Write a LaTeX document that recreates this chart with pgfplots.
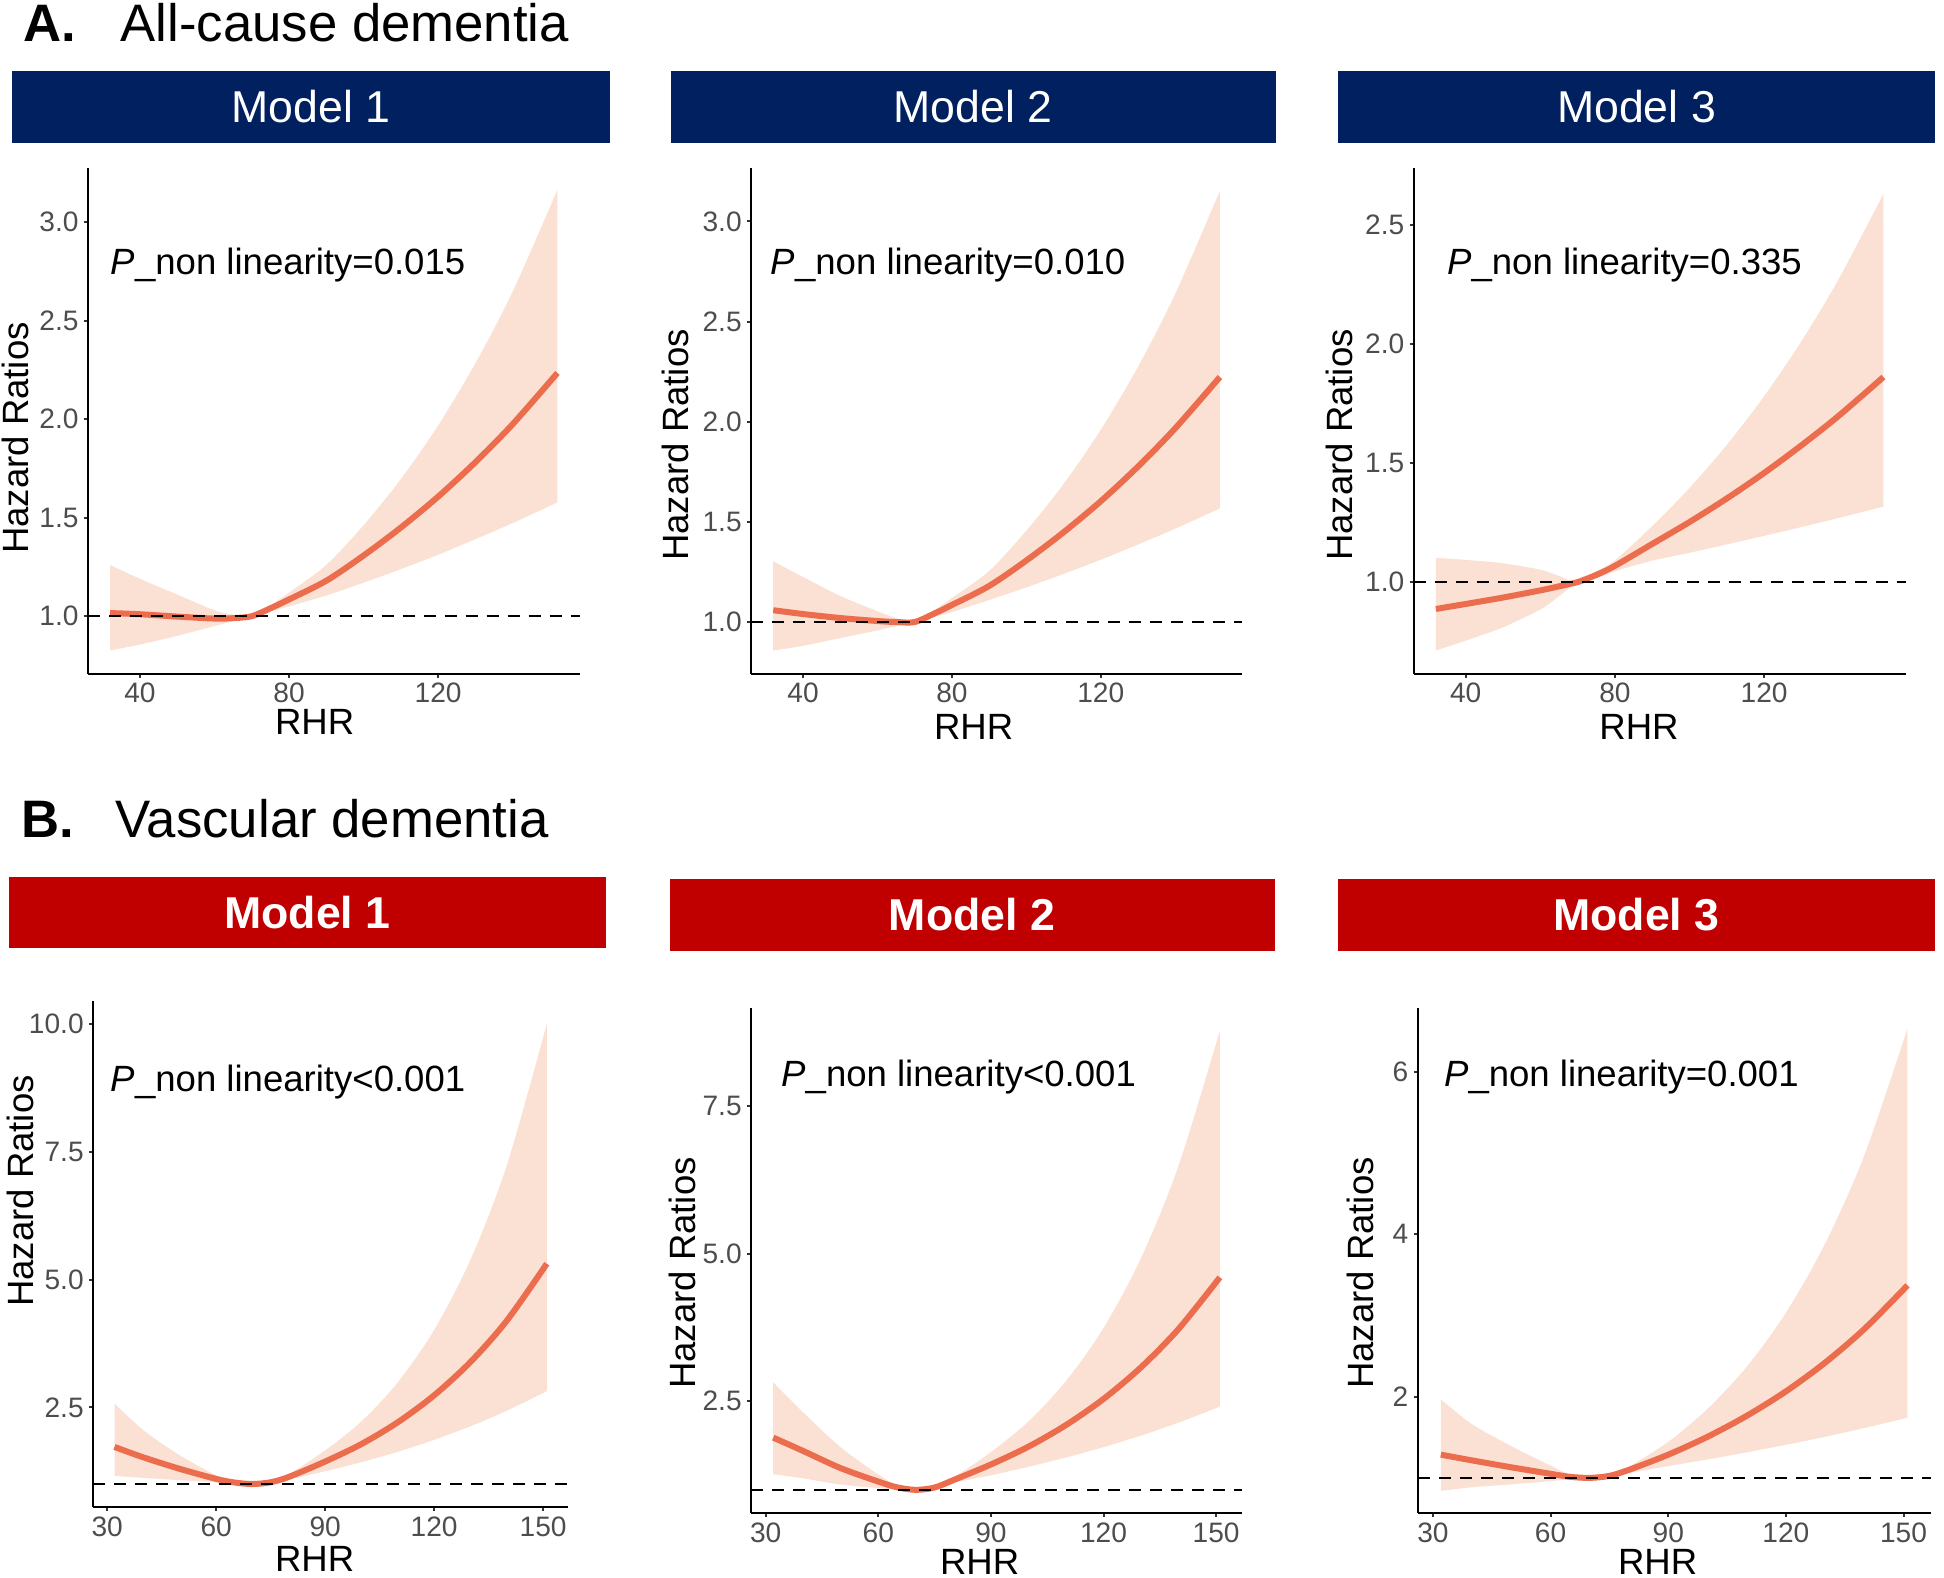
\documentclass[border=0pt]{standalone}
\usepackage{fontspec}
\setmainfont{Liberation Sans}
\usepackage{pgfplots}
\pgfplotsset{compat=1.18}
\usepackage{pgfplotstable}
\usepgfplotslibrary{fillbetween}

\definecolor{navyc}{HTML}{002060}
\definecolor{redc}{HTML}{C00000}
\definecolor{fitc}{HTML}{EC6C4E}
\definecolor{bandc}{HTML}{FBE1D3}
\definecolor{labgray}{HTML}{4D4D4D}
\definecolor{tickgray}{HTML}{333333}

\newcommand\ticksz{\fontsize{8}{9.5}\selectfont}
\newcommand\labsz{\fontsize{10.4}{12}\selectfont}
\newcommand\annsz{\fontsize{10.4}{12}\selectfont}
\newcommand\stripsz{\fontsize{12.7}{15}\selectfont}
\newcommand\titlesz{\fontsize{15}{18}\selectfont}

% x = RHR, lo / fit / hi = hazard ratio and 95% CI
\pgfplotstableread{
x lo fit hi
32 0.826 1.016 1.260
40 0.856 1.010 1.190
50 0.900 0.998 1.110
60 0.950 0.988 1.030
65 0.975 0.990 1.008
70 1.000 1.000 1.000
75 1.025 1.040 1.055
80 1.050 1.085 1.120
90 1.105 1.180 1.260
100 1.170 1.308 1.462
110 1.239 1.450 1.696
120 1.312 1.607 1.968
130 1.391 1.782 2.284
140 1.473 1.975 2.648
152 1.578 2.235 3.165
}\Aone

\pgfplotstableread{
x lo fit hi
32 0.858 1.059 1.303
40 0.881 1.040 1.225
50 0.920 1.020 1.130
60 0.958 1.005 1.054
65 0.980 1.000 1.020
70 1.000 1.000 1.000
75 1.025 1.040 1.055
80 1.050 1.085 1.120
90 1.110 1.180 1.255
100 1.173 1.307 1.456
110 1.240 1.448 1.689
120 1.311 1.603 1.960
130 1.387 1.776 2.274
140 1.466 1.967 2.638
152 1.567 2.223 3.153
}\Atwo

\pgfplotstableread{
x lo fit hi
32 0.713 0.887 1.102
40 0.754 0.908 1.093
50 0.810 0.935 1.079
60 0.885 0.965 1.052
65 0.940 0.982 1.026
70 1.000 1.000 1.000
75 1.015 1.030 1.045
80 1.045 1.068 1.091
90 1.090 1.160 1.235
100 1.123 1.252 1.395
110 1.158 1.351 1.576
120 1.194 1.458 1.780
130 1.231 1.574 2.011
140 1.269 1.698 2.272
152 1.317 1.861 2.630
}\Athree

\pgfplotstableread{
x lo fit hi
32 1.160 1.725 2.575
40 1.120 1.520 2.050
50 1.075 1.296 1.560
60 1.035 1.100 1.170
65 1.010 1.030 1.050
70 1.000 1.000 1.000
75 1.020 1.035 1.050
80 1.090 1.140 1.190
90 1.250 1.440 1.660
100 1.428 1.783 2.227
110 1.631 2.209 2.991
120 1.864 2.736 4.015
130 2.130 3.388 5.389
140 2.434 4.197 7.237
151 2.820 5.310 10.000
}\Bone

\pgfplotstableread{
x lo fit hi
32 1.265 1.885 2.820
40 1.195 1.658 2.310
50 1.090 1.367 1.720
60 1.030 1.140 1.260
65 1.010 1.043 1.075
70 1.000 1.000 1.000
75 1.020 1.040 1.060
80 1.120 1.165 1.210
90 1.247 1.430 1.640
100 1.390 1.732 2.159
110 1.548 2.098 2.843
120 1.724 2.540 3.742
130 1.921 3.077 4.928
140 2.139 3.726 6.492
151 2.410 4.600 8.780
}\Btwo

\pgfplotstableread{
x lo fit hi
32 0.840 1.286 1.967
40 0.885 1.215 1.660
50 0.920 1.130 1.390
60 0.960 1.050 1.150
65 0.985 1.013 1.040
70 1.000 1.000 1.000
75 1.010 1.025 1.040
80 1.060 1.100 1.140
90 1.145 1.286 1.444
100 1.227 1.506 1.849
110 1.314 1.764 2.368
120 1.407 2.065 3.033
130 1.506 2.419 3.884
140 1.614 2.833 4.972
151 1.740 3.370 6.530
}\Bthree

\pgfplotsset{
  rcs/.style={
    scale only axis,
    anchor=south west,
    axis lines*=left,
    axis line style={-, line width=0.2mm, black},
    tick align=outside,
    major tick length=0.4mm,
    tick style={line width=0.2mm, tickgray},
    tick label style={font=\ticksz, text=labgray},
    xticklabel style={inner sep=0.5mm},
    yticklabel style={inner sep=0.45mm},
    /pgf/number format/assume math mode=true,
    minor tick num=0,
  },
}

% ribbon, fitted curve and reference line HR = 1
\newcommand\rcscurves[3]{%
  \addplot[name path=up, draw=none, smooth] table[x=x, y=hi] {#1};
  \addplot[name path=dn, draw=none, smooth] table[x=x, y=lo] {#1};
  \addplot[fill=bandc, draw=none] fill between[of=up and dn];
  \addplot[fitc, line width=0.6mm, smooth] table[x=x, y=fit] {#1};
  \addplot[black, line width=0.2mm, dash pattern=on 1.25mm off 0.85mm] coordinates {(#2,1) (#3,1)};
}

\begin{document}
\begin{tikzpicture}

\begin{scope}[x=0.1mm, y=-0.1mm]
  % panel titles
  \node[anchor=base west, inner sep=0, font=\titlesz\bfseries] at (23,41) {A.};
  \node[anchor=base west, inner sep=0, font=\titlesz] at (120,41) {All-cause dementia};
  \node[anchor=base west, inner sep=0, font=\titlesz\bfseries] at (21,837) {B.};
  \node[anchor=base west, inner sep=0, font=\titlesz] at (115,837) {Vascular dementia};

  % strips
  \fill[navyc] (12.4,70.7) rectangle (610,142.6);
  \fill[navyc] (670.7,70.7) rectangle (1275.8,142.6);
  \fill[navyc] (1337.7,70.7) rectangle (1935.3,142.6);
  \node[font=\stripsz, text=white, inner sep=0] at (311.2,106.6) {Model 1};
  \node[font=\stripsz, text=white, inner sep=0] at (973.2,106.6) {Model 2};
  \node[font=\stripsz, text=white, inner sep=0] at (1636.5,106.6) {Model 3};

  \fill[redc] (8.7,876.5) rectangle (606.3,948.4);
  \fill[redc] (669.5,879) rectangle (1274.5,951);
  \fill[redc] (1337.7,879) rectangle (1935.3,951);
  \node[font=\stripsz\bfseries, text=white, inner sep=0] at (307.5,912.4) {Model 1};
  \node[font=\stripsz\bfseries, text=white, inner sep=0] at (972,915) {Model 2};
  \node[font=\stripsz\bfseries, text=white, inner sep=0] at (1636.5,915) {Model 3};
\end{scope}

% ---------- A. All-cause dementia ----------
\begin{axis}[rcs, at={(8.77mm,-67.35mm)}, width=49.21mm, height=50.58mm,
  xmin=26, xmax=158, ymin=0.709, ymax=3.277,
  xtick={40,80,120}, ytick={1,1.5,2,2.5,3},
  yticklabels={1.0,1.5,2.0,2.5,3.0}]
  \rcscurves{\Aone}{26}{158}
\end{axis}

\begin{axis}[rcs, at={(75.09mm,-67.35mm)}, width=49.13mm, height=50.58mm,
  xmin=26, xmax=158, ymin=0.743, ymax=3.268,
  xtick={40,80,120}, ytick={1,1.5,2,2.5,3},
  yticklabels={1.0,1.5,2.0,2.5,3.0}]
  \rcscurves{\Atwo}{26}{158}
\end{axis}

\begin{axis}[rcs, at={(141.35mm,-67.35mm)}, width=49.23mm, height=50.58mm,
  xmin=26, xmax=158, ymin=0.616, ymax=2.74,
  xtick={40,80,120}, ytick={1,1.5,2,2.5},
  yticklabels={1.0,1.5,2.0,2.5}]
  \rcscurves{\Athree}{26}{158}
\end{axis}

% ---------- B. Vascular dementia ----------
\begin{axis}[rcs, at={(9.29mm,-150.7mm)}, width=47.55mm, height=50.6mm,
  xmin=26.05, xmax=156.95, ymin=0.55, ymax=10.45,
  xtick={30,60,90,120,150}, ytick={2.5,5,7.5,10},
  yticklabels={2.5,5.0,7.5,10.0}]
  \rcscurves{\Bone}{26.05}{156.95}
\end{axis}

\begin{axis}[rcs, at={(75.09mm,-151.28mm)}, width=49.13mm, height=50.52mm,
  xmin=26.05, xmax=156.95, ymin=0.611, ymax=9.17,
  xtick={30,60,90,120,150}, ytick={2.5,5,7.5},
  yticklabels={2.5,5.0,7.5}]
  \rcscurves{\Btwo}{26.05}{156.95}
\end{axis}

\begin{axis}[rcs, at={(141.75mm,-151.28mm)}, width=51.33mm, height=50.52mm,
  xmin=26.05, xmax=156.95, ymin=0.57, ymax=6.79,
  xtick={30,60,90,120,150}, ytick={2,4,6},
  yticklabels={2,4,6}]
  \rcscurves{\Bthree}{26.05}{156.95}
\end{axis}

\begin{scope}[x=0.1mm, y=-0.1mm]
  % y labels
  \node[rotate=90, font=\labsz, inner sep=0] at (15.8,438) {Hazard Ratios};
  \node[rotate=90, font=\labsz, inner sep=0] at (675.2,445) {Hazard Ratios};
  \node[rotate=90, font=\labsz, inner sep=0] at (1339.3,445) {Hazard Ratios};
  \node[rotate=90, font=\labsz, inner sep=0] at (20.8,1191) {Hazard Ratios};
  \node[rotate=90, font=\labsz, inner sep=0] at (682,1273) {Hazard Ratios};
  \node[rotate=90, font=\labsz, inner sep=0] at (1360.4,1273) {Hazard Ratios};
  % x labels
  \node[anchor=base, font=\labsz, inner sep=0] at (314.6,734) {RHR};
  \node[anchor=base, font=\labsz, inner sep=0] at (973.6,739) {RHR};
  \node[anchor=base, font=\labsz, inner sep=0] at (1639,739) {RHR};
  \node[anchor=base, font=\labsz, inner sep=0] at (314.6,1571) {RHR};
  \node[anchor=base, font=\labsz, inner sep=0] at (979.6,1574) {RHR};
  \node[anchor=base, font=\labsz, inner sep=0] at (1657.6,1574) {RHR};
  % non-linearity tests
  \node[anchor=base west, font=\annsz, inner sep=0] at (110,274.6) {\textit{P}\_non linearity=0.015};
  \node[anchor=base west, font=\annsz, inner sep=0] at (770,274.6) {\textit{P}\_non linearity=0.010};
  \node[anchor=base west, font=\annsz, inner sep=0] at (1446.5,274.6) {\textit{P}\_non linearity=0.335};
  \node[anchor=base west, font=\annsz, inner sep=0] at (110,1091) {\textit{P}\_non linearity<0.001};
  \node[anchor=base west, font=\annsz, inner sep=0] at (780.6,1086.6) {\textit{P}\_non linearity<0.001};
  \node[anchor=base west, font=\annsz, inner sep=0] at (1443.4,1086.6) {\textit{P}\_non linearity=0.001};
\end{scope}

\pgfresetboundingbox
\path[use as bounding box] (0,0) rectangle (194.4mm,-157.8mm);
\end{tikzpicture}
\end{document}
